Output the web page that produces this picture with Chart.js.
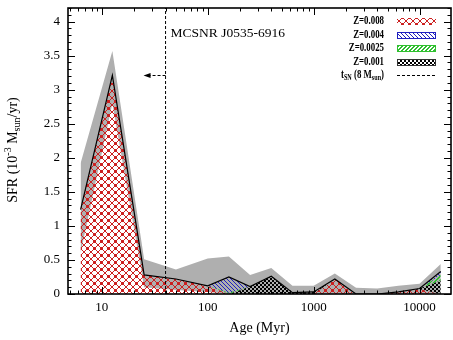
<!DOCTYPE html>
<html>
<head>
<meta charset="utf-8">
<script src="https://cdn.jsdelivr.net/npm/chart.js@4"></script>
<style>
  html, body { margin: 0; padding: 0; background: #fff; }
  canvas { display: block; }
</style>
</head>
<body>
<canvas id="sfh" width="453" height="340"></canvas>
<script>
// age bins (Myr) and SFR per metallicity (10^-3 Msun/yr)
const ages = [6.31, 12.59, 25.12, 50.12, 100, 158.5, 251.2, 398.1, 631, 1000, 1585, 2512, 3981, 6310, 10000, 15849];
const sfrZ008 = [1.24, 3.21, 0.28, 0.22, 0.12, 0, 0, 0, 0, 0, 0.22, 0, 0, 0.03, 0.07, 0];
const sfrZ001 = [0, 0, 0, 0, 0, 0, 0.11, 0.26, 0.02, 0.03, 0, 0, 0, 0, 0.01, 0.2];
const sfrZ0025 = [0, 0, 0, 0, 0, 0.02, 0, 0, 0, 0, 0, 0, 0, 0, 0, 0.08];
const sfrZ004 = [0, 0, 0, 0, 0, 0.23, 0, 0, 0, 0, 0, 0, 0, 0, 0, 0.05];
// error band of the total
const sfrUpper = [1.92, 3.57, 0.51, 0.36, 0.52, 0.55, 0.28, 0.38, 0.12, 0.12, 0.3, 0.09, 0.08, 0.12, 0.15, 0.44];
const sfrLower = [0.6, 2.8, 0.1, 0.06, 0.03, 0, 0, 0, 0, 0, 0, 0, 0, 0, 0, 0];
// lifetime of an 8 Msun star (Myr)
const tSN = 40;
const xLabels = [10, 100, 1000, 10000];
const yLabels = [0, 0.5, 1, 1.5, 2, 2.5, 3, 3.5, 4];

const SERIF = '"Liberation Serif", "Times New Roman", serif';

// pixel patterns, drawn cell by cell so they stay crisp
function makePattern(size, color, on) {
    const c = document.createElement('canvas');
    c.width = c.height = size;
    const g = c.getContext('2d');
    g.fillStyle = color;
    for (let i = 0; i < size; i++) {
        for (let j = 0; j < size; j++) {
            if (on(i, j, size)) g.fillRect(i, j, 1, 1);
        }
    }
    return g.createPattern(c, 'repeat');
}

const redHatch = makePattern(7, '#cc2020', (i, j, s) =>
    i === j || i === s - 1 - j || (Math.abs(i - 3) + Math.abs(j - 3) === 1));
const blueHatch = makePattern(4, '#2020c0', (i, j) => i === j);
const greenHatch = makePattern(4, '#30c030', (i, j, s) => i === s - 1 - j || i === (s - j) % s);
const blackHatch = makePattern(4, '#000', (i, j) => (Math.floor(i / 2) + Math.floor(j / 2)) % 2 === 0);

// cumulative tops of the stacked metallicity areas
const cum1 = sfrZ008.slice();
const cum2 = cum1.map((v, i) => v + sfrZ001[i]);
const cum3 = cum2.map((v, i) => v + sfrZ0025[i]);
const cum4 = cum3.map((v, i) => v + sfrZ004[i]);

const pts = arr => ages.map((a, i) => ({ x: a, y: arr[i] }));

function area(data, fill, bg, order) {
    return { data: pts(data), fill: fill, backgroundColor: bg, borderWidth: 0, pointRadius: 0, order: order };
}

// text with sub/superscripts, optionally squeezed horizontally
function drawRich(ctx, parts, x, y, align, sx) {
    sx = sx || 1;
    let w = 0;
    parts.forEach(p => {
        ctx.font = (p.b ? 'bold ' : '') + p.f + 'px ' + SERIF;
        p.w = ctx.measureText(p.t).width;
        w += p.w;
    });
    let x0 = align === 'right' ? x - w * sx : align === 'center' ? x - w * sx / 2 : x;
    ctx.save();
    ctx.translate(x0, y);
    ctx.scale(sx, 1);
    ctx.textBaseline = 'middle';
    ctx.textAlign = 'left';
    ctx.fillStyle = '#000';
    let cx = 0;
    parts.forEach(p => {
        ctx.font = (p.b ? 'bold ' : '') + p.f + 'px ' + SERIF;
        ctx.fillText(p.t, cx, p.dy || 0);
        cx += p.w;
    });
    ctx.restore();
}

const decorations = {
    id: 'decorations',
    afterDraw(chart) {
        const { ctx, chartArea: a, scales: { x, y } } = chart;
        ctx.save();
        ctx.strokeStyle = '#000';

        // ticks pointing inwards, on all four sides
        ctx.lineWidth = 1;
        ctx.beginPath();
        for (let k = 0; k <= 42; k++) {
            const v = k / 10;
            const py = Math.round(y.getPixelForValue(v)) + 0.5;
            const len = k % 5 === 0 ? 7 : 3.5;
            ctx.moveTo(a.left, py); ctx.lineTo(a.left + len, py);
            ctx.moveTo(a.right, py); ctx.lineTo(a.right - len, py);
        }
        for (let dec = 1; dec <= 10000; dec *= 10) {
            for (let m = 1; m <= 9; m++) {
                const v = m * dec;
                if (v < x.min || v > x.max) continue;
                const px = Math.round(x.getPixelForValue(v)) + 0.5;
                const len = m === 1 ? 7 : 3.5;
                ctx.moveTo(px, a.bottom); ctx.lineTo(px, a.bottom - len);
                ctx.moveTo(px, a.top); ctx.lineTo(px, a.top + len);
            }
        }
        ctx.stroke();

        ctx.lineWidth = 1.6;
        ctx.strokeRect(a.left, a.top, a.right - a.left, a.bottom - a.top);

        // t_SN arrow and remnant name
        const xs = x.getPixelForValue(tSN);
        const ay = 75;
        ctx.lineWidth = 1;
        ctx.setLineDash([3, 2]);
        ctx.beginPath();
        ctx.moveTo(xs, ay + 0.5); ctx.lineTo(xs - 16, ay + 0.5);
        ctx.stroke();
        ctx.setLineDash([]);
        ctx.fillStyle = '#000';
        ctx.beginPath();
        ctx.moveTo(xs - 22, ay + 0.5);
        ctx.lineTo(xs - 15, ay - 2);
        ctx.lineTo(xs - 15, ay + 3);
        ctx.closePath();
        ctx.fill();

        drawRich(ctx, [{ t: 'MCSNR J0535-6916', f: 13.5 }], xs + 5, 33, 'left');

        // axis titles
        drawRich(ctx, [{ t: 'Age (Myr)', f: 14 }], (a.left + a.right) / 2, 328, 'center');
        ctx.save();
        ctx.translate(13, 150);
        ctx.rotate(-Math.PI / 2);
        drawRich(ctx, [
            { t: 'SFR (10', f: 14 },
            { t: '-3', f: 10, dy: -5 },
            { t: ' M', f: 14 },
            { t: 'sun', f: 10, dy: 4 },
            { t: '/yr)', f: 14 }
        ], 0, 0, 'center');
        ctx.restore();

        // key
        const rows = [
            { parts: [{ t: 'Z=0.008', f: 13, b: true }], fill: redHatch, edge: null },
            { parts: [{ t: 'Z=0.004', f: 13, b: true }], fill: blueHatch, edge: '#2020c0' },
            { parts: [{ t: 'Z=0.0025', f: 13, b: true }], fill: greenHatch, edge: '#30c030' },
            { parts: [{ t: 'Z=0.001', f: 13, b: true }], fill: blackHatch, edge: '#333' },
            { parts: [{ t: 't', f: 13, b: true }, { t: 'SN', f: 9, dy: 3, b: true }, { t: ' (8 M', f: 13, b: true }, { t: 'sun', f: 9, dy: 3, b: true }, { t: ')', f: 13, b: true }], dash: true }
        ];
        const textRight = 384, boxL = 397, boxR = 436;
        rows.forEach((r, i) => {
            const ry = 21 + i * 13.5;
            drawRich(ctx, r.parts, textRight, ry, 'right', 0.68);
            if (r.dash) {
                ctx.lineWidth = 1;
                ctx.strokeStyle = '#000';
                ctx.setLineDash([3, 2]);
                ctx.beginPath();
                ctx.moveTo(boxL, Math.round(ry) + 0.5); ctx.lineTo(boxR, Math.round(ry) + 0.5);
                ctx.stroke();
                ctx.setLineDash([]);
            } else {
                const top = Math.round(ry - 3);
                ctx.fillStyle = r.fill;
                ctx.fillRect(boxL, top, boxR - boxL, 7);
                if (r.edge) {
                    ctx.lineWidth = 1;
                    ctx.strokeStyle = r.edge;
                    ctx.strokeRect(boxL + 0.5, top + 0.5, boxR - boxL - 1, 6);
                }
            }
        });
        ctx.restore();
    }
};

new Chart(document.getElementById('sfh'), {
    type: 'line',
    data: {
        datasets: [
            area(sfrUpper, 1, '#afafaf', 9),
            area(sfrLower, false, 'rgba(0,0,0,0)', 9),
            area(cum1, 'origin', redHatch, 8),
            area(cum2, 2, blackHatch, 7),
            area(cum3, 3, greenHatch, 6),
            area(cum4, 4, blueHatch, 5),
            {
                data: pts(cum4),
                fill: false,
                borderColor: '#000',
                borderWidth: 1.2,
                pointRadius: 0,
                order: 2
            },
            {
                data: [{ x: tSN, y: 0 }, { x: tSN, y: 4.2 }],
                fill: false,
                borderColor: '#000',
                borderWidth: 1,
                borderDash: [3, 2],
                pointRadius: 0,
                order: 1
            }
        ]
    },
    options: {
        responsive: false,
        animation: false,
        devicePixelRatio: 1,
        layout: { padding: { top: 8, right: 2, left: 0, bottom: 0 } },
        plugins: { legend: { display: false }, tooltip: { enabled: false } },
        elements: { line: { tension: 0 } },
        scales: {
            x: {
                type: 'logarithmic',
                min: 4.8,
                max: 19800,
                grid: { display: false, drawTicks: false },
                border: { display: false },
                ticks: {
                    autoSkip: false,
                    maxRotation: 0,
                    padding: 6,
                    color: '#000',
                    font: { family: SERIF, size: 13 },
                    callback: v => xLabels.some(t => Math.abs(t - v) < 1e-6) ? String(Math.round(v)) : ''
                },
                afterFit: s => { s.height = 46; s.paddingLeft = 0; s.paddingRight = 0; }
            },
            y: {
                min: 0,
                max: 4.2,
                grid: { display: false, drawTicks: false },
                border: { display: false },
                ticks: {
                    stepSize: 0.5,
                    includeBounds: false,
                    padding: 8,
                    color: '#000',
                    font: { family: SERIF, size: 13 },
                    callback: v => yLabels.some(t => Math.abs(t - v) < 1e-6) ? String(v) : ''
                },
                afterFit: s => { s.width = 68; s.paddingTop = 0; s.paddingBottom = 0; }
            }
        }
    },
    plugins: [decorations]
});
</script>
</body>
</html>
